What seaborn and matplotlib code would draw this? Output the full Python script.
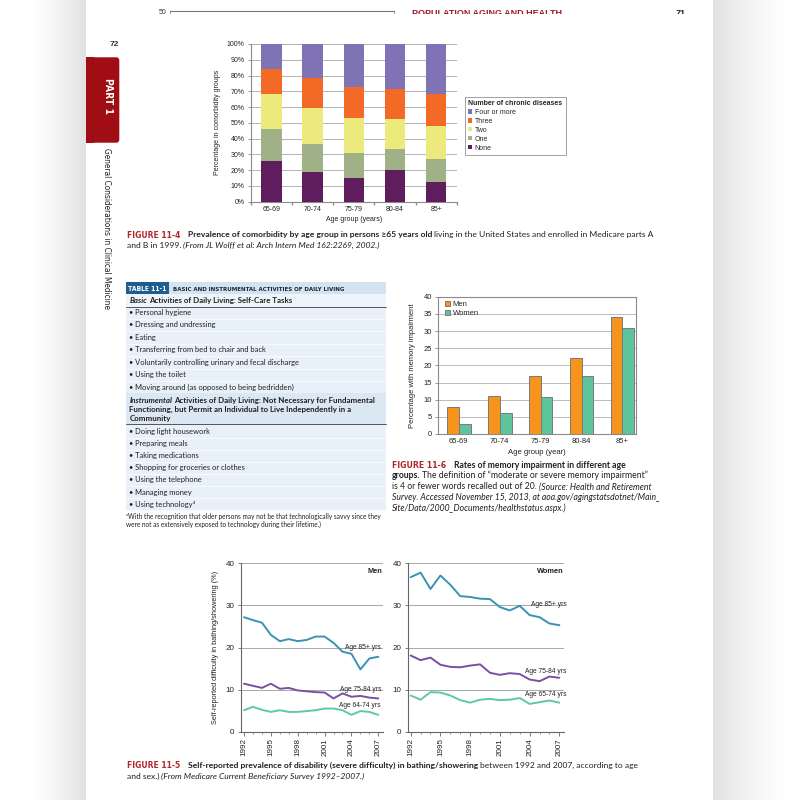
import numpy as np
import pandas as pd
import seaborn as sns
import matplotlib.pyplot as plt
from matplotlib import font_manager
from matplotlib.patches import Rectangle, FancyBboxPatch, Patch
from matplotlib.transforms import Bbox, TransformedBbox

# ---------------- data ----------------
age_groups = ["65-69", "70-74", "75-79", "80-84", "85+"]
disease_levels = ["None", "One", "Two", "Three", "Four or more"]
pct_none = [25.8, 19.0, 15.2, 19.9, 12.3]
pct_one = [20.2, 17.8, 15.8, 13.7, 15.0]
pct_two = [22.3, 22.8, 21.9, 18.8, 20.9]
pct_three = [16.1, 18.6, 19.6, 18.8, 20.3]
pct_four = [15.6, 21.8, 27.5, 28.8, 31.5]

memory_men = [8, 11, 17, 22, 34]
memory_women = [3, 6, 10.8, 17, 30.8]

years = list(range(1992, 2008))
men_85 = [27.2, 26.5, 25.9, 23.0, 21.5, 22.0, 21.5, 21.8, 22.6, 22.6, 21.1, 19.0, 18.5, 14.8, 17.4, 17.8]
men_75 = [11.4, 10.9, 10.4, 11.4, 10.2, 10.4, 9.8, 9.6, 9.4, 9.3, 7.9, 9.1, 8.3, 8.5, 8.1, 7.9]
men_65 = [5.1, 5.9, 5.2, 4.7, 5.1, 4.7, 4.7, 4.9, 5.1, 5.5, 5.5, 5.1, 4.0, 4.9, 4.7, 4.0]
women_85 = [36.7, 37.8, 33.9, 37.1, 34.9, 32.2, 32.0, 31.6, 31.5, 29.6, 28.8, 29.9, 27.7, 27.2, 25.7, 25.3]
women_75 = [18.1, 17.0, 17.6, 15.9, 15.4, 15.3, 15.7, 16.0, 14.0, 13.5, 13.9, 13.7, 12.4, 12.0, 13.1, 12.8]
women_65 = [8.6, 7.6, 9.4, 9.3, 8.6, 7.5, 6.9, 7.6, 7.8, 7.5, 7.6, 8.0, 6.6, 7.0, 7.4, 6.9]

basic_tasks = ["Personal hygiene", "Dressing and undressing", "Eating",
               "Transferring from bed to chair and back",
               "Voluntarily controlling urinary and fecal discharge",
               "Using the toilet", "Moving around (as opposed to being bedridden)"]
instrumental_tasks = ["Doing light housework", "Preparing meals", "Taking medications",
                      "Shopping for groceries or clothes", "Using the telephone",
                      "Managing money", "Using technology"]

# ---------------- fonts ----------------
avail = {f.name for f in font_manager.fontManager.ttflist}
def pick(*names):
    for n in names:
        if n in avail:
            return n
    return "DejaVu Sans"
BODY = pick("Lato", "Open Sans", "Noto Sans")
CHART = pick("Liberation Sans", "DejaVu Sans")
if "Liberation Sans Narrow" in avail:
    NARROW_KW = dict(family=["Liberation Sans Narrow", "DejaVu Sans"])
elif any(f.name == "DejaVu Sans" and f.stretch == "condensed" for f in font_manager.fontManager.ttflist):
    NARROW_KW = dict(family=["DejaVu Sans"], stretch="condensed")
else:
    NARROW_KW = dict(family=["DejaVu Sans"])

sns.set_theme(style="white")
plt.rcParams["font.family"] = [CHART, "DejaVu Sans"]
plt.rcParams["axes.linewidth"] = 0.8

W = H = 800
fig = plt.figure(figsize=(8, 8), dpi=100)
renderer = fig.canvas.get_renderer()
PX = 100 / 72

# page background in pixel coordinates
bg = fig.add_axes([0, 0, 1, 1], zorder=0)
xs = np.arange(800)
shade = np.ones(800)
lft = (xs >= 20) & (xs < 86)
shade[lft] = 1 - 0.12 * ((xs[lft] - 20) / 66) ** 1.6
rgt = xs >= 713
shade[rgt] = 1 - 0.12 * (1 - (xs[rgt] - 713) / 87) ** 1.6
bg.imshow(np.tile(shade, (2, 1)), cmap="gray", vmin=0, vmax=1,
          extent=(0, 800, 800, 0), aspect="auto")
bg.set_xlim(0, 800)
bg.set_ylim(800, 0)
bg.axis("off")


def fam(f):
    return [f, "DejaVu Sans"]

RED = dict(NARROW_KW, weight="bold", color="#b3262b")
BOLD = dict(family=fam(BODY), weight="bold", color="#231f20")
BOLDIT = dict(family=fam(BODY), weight="bold", style="italic", color="#231f20")
NORM = dict(family=fam(BODY), color="#231f20")
ITAL = dict(family=fam(BODY), style="italic", color="#231f20")


def draw_line(x, y, parts, size):
    cx, arts = x, []
    for s, st, gap in parts:
        st = dict(st)
        scale = st.pop("scale", 1.0)
        rise = st.pop("rise", 0.0)
        cx += gap * size * PX
        t = bg.text(cx, y - rise * size * PX, s, fontsize=size * scale,
                    va="baseline", ha="left", **st)
        cx += t.get_window_extent(renderer).width
        arts.append(t)
    return cx, arts


def fit(parts, width, base=6.0):
    end, arts = draw_line(0, -50, parts, base)
    for a in arts:
        a.remove()
    return base * width / end

# ---------------- running head and side tab ----------------
bg.text(166, 12.5, "50", ha="right", va="center", fontsize=5, color="#333", family=fam(CHART))
bg.plot([170, 394], [11, 11], color="#777", lw=0.8)
bg.plot([170, 170], [11, 13], color="#777", lw=0.6)
bg.plot([394, 394], [11, 13], color="#777", lw=0.6)
clip = TransformedBbox(Bbox([[0, 0], [800, 13.5]]), bg.transData)
for txt, x in [("POPULATION AGING AND HEALTH", 412), ("71", 676)]:
    t = bg.text(x, 16, txt, ha="left", va="baseline", fontsize=6.5,
                weight="bold", color="#a01c22" if x < 600 else "#222", family=fam(CHART))
    t.set_clip_box(clip)
    t.set_clip_on(True)

bg.text(119, 45, "72", ha="right", va="center", fontsize=6, weight="bold",
        color="#333", family=fam(CHART))
bg.add_patch(FancyBboxPatch((86, 57.3), 33.3, 85.4, boxstyle="round,pad=0,rounding_size=3",
                            fc="#a00d14", ec="none"))
bg.add_patch(Rectangle((86, 57.3), 8, 85.4, fc="#a00d14", ec="none"))
bg.text(108, 96, "PART 1", rotation=-90, ha="center", va="center", fontsize=7.5,
        weight="bold", color="white", **NARROW_KW)
side = bg.text(106.5, 148, "General Considerations in Clinical Medicine", rotation=-90,
               ha="center", va="top", fontsize=7.2, color="#231f20", **NARROW_KW)
side.set_fontsize(7.2 * 162 / side.get_window_extent(renderer).height)

# ---------------- FIGURE 11-4 : comorbidity stacked bars ----------------
ax1 = fig.add_axes([251 / W, 1 - 201.7 / H, 205.7 / W, 157.7 / H], zorder=2)
ax1.set_facecolor("none")
bar_colors = {"None": "#5f1d5e", "One": "#a0b187", "Two": "#ecea7c",
              "Three": "#f26a26", "Four or more": "#7f72b5"}
comorb = pd.DataFrame({"age": age_groups, "None": pct_none, "One": pct_one,
                       "Two": pct_two, "Three": pct_three, "Four or more": pct_four})
cum = comorb[disease_levels].cumsum(axis=1)
for lvl in reversed(disease_levels):
    sns.barplot(x=comorb["age"], y=cum[lvl], color=bar_colors[lvl], width=0.5,
                saturation=1, linewidth=0, errorbar=None, ax=ax1, zorder=3)
ax1.set_ylim(0, 100)
ax1.set_xlim(-0.5, 4.5)
ax1.set_yticks(range(0, 101, 10))
ax1.set_yticklabels([f"{v}%" for v in range(0, 101, 10)])
ax1.yaxis.grid(True, color="#a8a8a8", lw=0.6)
ax1.set_axisbelow(True)
for s in ["top", "right"]:
    ax1.spines[s].set_visible(False)
for s in ["left", "bottom"]:
    ax1.spines[s].set_color("#8a8a8a")
ax1.set_xticks(np.arange(-0.5, 5, 1), minor=True)
ax1.tick_params(axis="x", which="major", length=0, pad=3, labelsize=5, colors="#222")
ax1.tick_params(axis="x", which="minor", length=2.5, color="#8a8a8a", bottom=True)
ax1.tick_params(axis="y", length=2.5, width=0.6, color="#8a8a8a", pad=2, labelsize=5,
                colors="#222", left=True)
ax1.set_xlabel("Age group (years)", fontsize=5, color="#222")
ax1.set_ylabel("Percentage in comorbidity groups", fontsize=5, color="#222")
ax1.xaxis.set_label_coords(0.5, (201.7 - 216) / 157.7)
ax1.yaxis.set_label_coords((221 - 251) / 205.7, 0.5)
handles = [Patch(fc=bar_colors[l], ec="none", label=l) for l in reversed(disease_levels)]
leg = ax1.legend(handles=handles, loc="upper left", bbox_to_anchor=(461.7 / W, 1 - 93.3 / H),
                 bbox_transform=fig.transFigure, title="Number of chronic diseases",
                 frameon=True, fancybox=False, edgecolor="#8a8a8a", fontsize=5,
                 title_fontsize=5, handlelength=0.6, handleheight=0.6, handletextpad=0.3,
                 borderpad=0.45, labelspacing=0.28, alignment="left")
leg.get_frame().set_linewidth(0.7)
leg.get_title().set_fontweight("bold")

cap1 = [("FIGURE 11-4", RED, 0),
        ("Prevalence of comorbidity by age group in persons \u226565 years old", BOLD, 0.9),
        ("living in the United States and enrolled in Medicare parts A", NORM, 0.25)]
sz = fit(cap1, 529)
draw_line(126.7, 237.5, cap1, sz)
draw_line(126.7, 248.2, [("and B in 1999.", NORM, 0),
                         ("(From JL Wolff et al: Arch Intern Med 162:2269, 2002.)", ITAL, 0.25)], sz)

# ---------------- TABLE 11-1 ----------------
TL, TR = 126, 386
bg.add_patch(Rectangle((TL, 307), TR - TL, 86, fc="#e8f1f9", ec="none"))
bg.add_patch(Rectangle((TL, 424), TR - TL, 87, fc="#e8f1f9", ec="none"))
bg.add_patch(Rectangle((TL, 294), TR - TL, 13, fc="#edf4fa", ec="none"))
bg.add_patch(Rectangle((TL, 393), TR - TL, 31, fc="#dbe7f3", ec="none"))
bg.add_patch(Rectangle((TL, 282), 43, 11.5, fc="#1f5d8c", ec="none"))
bg.add_patch(Rectangle((169, 282), TR - 169, 11.5, fc="#d3e3f2", ec="none"))
bg.plot([TL, TR], [307.2, 307.2], color="#555", lw=0.7)
bg.plot([TL, TR], [424.2, 424.2], color="#555", lw=0.7)
for yy in np.arange(319, 393, 12.4):
    bg.plot([TL, TR], [yy, yy], color="white", lw=0.5)
for yy in np.arange(437.7, 511, 12.1):
    bg.plot([TL, TR], [yy, yy], color="white", lw=0.5)

TBOLD = dict(NARROW_KW, weight="bold", color="#1d2633")
hsz = fit([("BASIC AND INSTRUMENTAL ACTIVITIES OF DAILY LIVING", TBOLD, 0)], 177)
draw_line(172.7, 291, [("BASIC AND INSTRUMENTAL ACTIVITIES OF DAILY LIVING", TBOLD, 0)], hsz)
tsz = fit([("TABLE 11-1", TBOLD, 0)], 39)
draw_line(128, 291, [("TABLE 11-1", dict(TBOLD, color="white"), 0)], tsz)

sec = [("Instrumental", BOLDIT, 0), ("Activities of Daily Living: Not Necessary for Fundamental", BOLD, 0.25)]
ssz = fit(sec, 247)
draw_line(129.3, 303.3, [("Basic", BOLDIT, 0), ("Activities of Daily Living: Self-Care Tasks", BOLD, 0.25)], ssz)
draw_line(129.3, 402.6, sec, ssz)
draw_line(129.3, 411.6, [("Functioning, but Permit an Individual to Live Independently in a", BOLD, 0)], ssz)
draw_line(129.3, 420.6, [("Community", BOLD, 0)], ssz)

rsz = fit([("\u2022 Moving around (as opposed to being bedridden)", NORM, 0)], 165)
for i, task in enumerate(basic_tasks):
    draw_line(129.3, 315 + 12.4 * i, [("\u2022 " + task, NORM, 0)], rsz)
for i, task in enumerate(instrumental_tasks):
    parts = [("\u2022 " + task, NORM, 0)]
    if task == "Using technology":
        parts.append(("a", dict(NORM, scale=0.6, rise=0.35), 0.05))
    draw_line(129.3, 434 + 12.1 * i, parts, rsz)

foot1 = [("a", dict(NORM, scale=0.6, rise=0.35), 0),
         ("With the recognition that older persons may not be that technologically savvy since they", NORM, 0)]
fsz = fit(foot1, 257)
draw_line(126, 518.7, foot1, fsz)
draw_line(126, 527.3, [("were not as extensively exposed to technology during their lifetime.)", NORM, 0)], fsz)

# ---------------- FIGURE 11-6 : memory impairment ----------------
ax2 = fig.add_axes([438.3 / W, 1 - 434 / H, 197.7 / W, 137.3 / H], zorder=2)
ax2.set_facecolor("none")
mem = pd.DataFrame({"age": age_groups * 2, "pct": memory_men + memory_women,
                    "sex": ["Men"] * 5 + ["Women"] * 5})
sns.barplot(data=mem, x="age", y="pct", hue="sex",
            palette={"Men": "#f7941d", "Women": "#5ec49b"}, width=0.58, gap=0,
            saturation=1, edgecolor="#7a7a7a", linewidth=0.7, errorbar=None, ax=ax2, zorder=3)
ax2.set_ylim(0, 40)
ax2.set_xlim(-0.5, 4.33)
ax2.set_yticks(range(0, 41, 5))
ax2.yaxis.grid(True, color="#b0b0b0", lw=0.6)
ax2.set_axisbelow(True)
for s in ax2.spines.values():
    s.set_color("#8a8a8a")
ax2.tick_params(axis="x", length=0, pad=3, labelsize=5.5, colors="#222")
ax2.tick_params(axis="y", length=2.5, width=0.6, color="#8a8a8a", pad=2, labelsize=5.5,
                colors="#222", left=True)
ax2.set_xlabel("Age group (year)", fontsize=5.5, color="#222")
ax2.set_ylabel("Percentage with memory impairment", fontsize=5.5, color="#222")
ax2.xaxis.set_label_coords(0.5, (434 - 449.5) / 137.3)
ax2.yaxis.set_label_coords((416.5 - 438.3) / 197.7, 0.5)
ax2.legend(loc="upper left", bbox_to_anchor=(0.02, 0.985), frameon=False, fontsize=5.5,
           handlelength=0.7, handleheight=0.7, handletextpad=0.35, labelspacing=0.15,
           borderpad=0.3, borderaxespad=0)

cap2 = [("FIGURE 11-6", RED, 0), ("Rates of memory impairment in different age", BOLD, 0.9)]
sz2 = fit(cap2, 236)
draw_line(391.7, 467.5, cap2, sz2)
draw_line(391.7, 478.5, [("groups.", BOLD, 0),
                         ("The definition of \u201cmoderate or severe memory impairment\u201d", NORM, 0.25)], sz2)
draw_line(391.7, 489.2, [("is 4 or fewer words recalled out of 20.", NORM, 0),
                         ("(Source: Health and Retirement", ITAL, 0.25)], sz2)
draw_line(391.7, 500.2, [("Survey. Accessed November 15, 2013, at aoa.gov/agingstatsdotnet/Main_", ITAL, 0)], sz2)
draw_line(391.7, 510.8, [("Site/Data/2000_Documents/healthstatus.aspx.)", ITAL, 0)], sz2)

# ---------------- FIGURE 11-5 : bathing/showering lines ----------------
line_colors = {"85+": "#3a92b4", "75-84": "#7a4fa2", "65-74": "#5fca9b"}
groups = ["85+"] * 16 + ["75-84"] * 16 + ["65-74"] * 16
men_df = pd.DataFrame({"year": years * 3, "pct": men_85 + men_75 + men_65, "group": groups})
women_df = pd.DataFrame({"year": years * 3, "pct": women_85 + women_75 + women_65, "group": groups})

ax3 = fig.add_axes([240.7 / W, 1 - 731.7 / H, 142 / W, 168.4 / H], zorder=2)
ax4 = fig.add_axes([407.7 / W, 1 - 731.7 / H, 156.3 / W, 168.4 / H], zorder=2)
panels = [(ax3, men_df, (1991.63, 2007.49), "Men"), (ax4, women_df, (1991.7, 2007.47), "Women")]
for ax, df, xl, title in panels:
    ax.set_facecolor("none")
    sns.lineplot(data=df, x="year", y="pct", hue="group", palette=line_colors,
                 linewidth=1.4, legend=False, ax=ax, zorder=3)
    ax.set_xlim(*xl)
    ax.set_ylim(0, 40)
    ax.set_yticks([0, 10, 20, 30, 40])
    ax.set_xticks(range(1992, 2008, 3))
    ax.set_xticks(years, minor=True)
    ax.yaxis.grid(True, color="#9a9a9a", lw=0.6)
    ax.set_axisbelow(True)
    for s in ["top", "right"]:
        ax.spines[s].set_visible(False)
    for s in ["left", "bottom"]:
        ax.spines[s].set_color("#666")
    ax.tick_params(axis="x", which="major", length=3, width=0.6, color="#666", pad=1.5,
                   labelsize=5.8, colors="#222", labelrotation=90, bottom=True)
    ax.tick_params(axis="x", which="minor", length=1.5, width=0.5, color="#666", bottom=True)
    ax.tick_params(axis="y", length=2.5, width=0.6, color="#666", pad=2, labelsize=5.8,
                   colors="#222", left=True)
    ax.set_xlabel("")
    ax.set_ylabel("")
    ax.text(xl[1], 38.0, title, ha="right", va="center", fontsize=5.3, weight="bold", color="#222")

ax3.set_ylabel("Self-reported difficulty in bathing/showering (%)", fontsize=5.3, color="#222")
ax3.yaxis.set_label_coords((219 - 240.7) / 142, 0.5)
for ax, x_end, labels in [(ax3, 2007.3, [("Age 85+ yrs", 20.0), ("Age 75-84 yrs", 10.1), ("Age 64-74 yrs", 6.2)]),
                          (ax4, 2007.7, [("Age 85+ yrs", 30.1), ("Age 75-84 yrs", 14.4), ("Age 65-74 yrs", 8.9)])]:
    for txt, yv in labels:
        ax.text(x_end, yv, txt, ha="right", va="center", fontsize=4.8, color="#222")

cap3 = [("FIGURE 11-5", RED, 0),
        ("Self-reported prevalence of disability (severe difficulty) in bathing/showering", BOLD, 0.9),
        ("between 1992 and 2007, according to age", NORM, 0.25)]
sz3 = fit(cap3, 513)
draw_line(126.8, 768.2, cap3, sz3)
draw_line(126.8, 779, [("and sex.)", NORM, 0),
                       ("(From Medicare Current Beneficiary Survey 1992\u20132007.)", ITAL, 0.25)], sz3)

fig.savefig("out.png", dpi=100)
